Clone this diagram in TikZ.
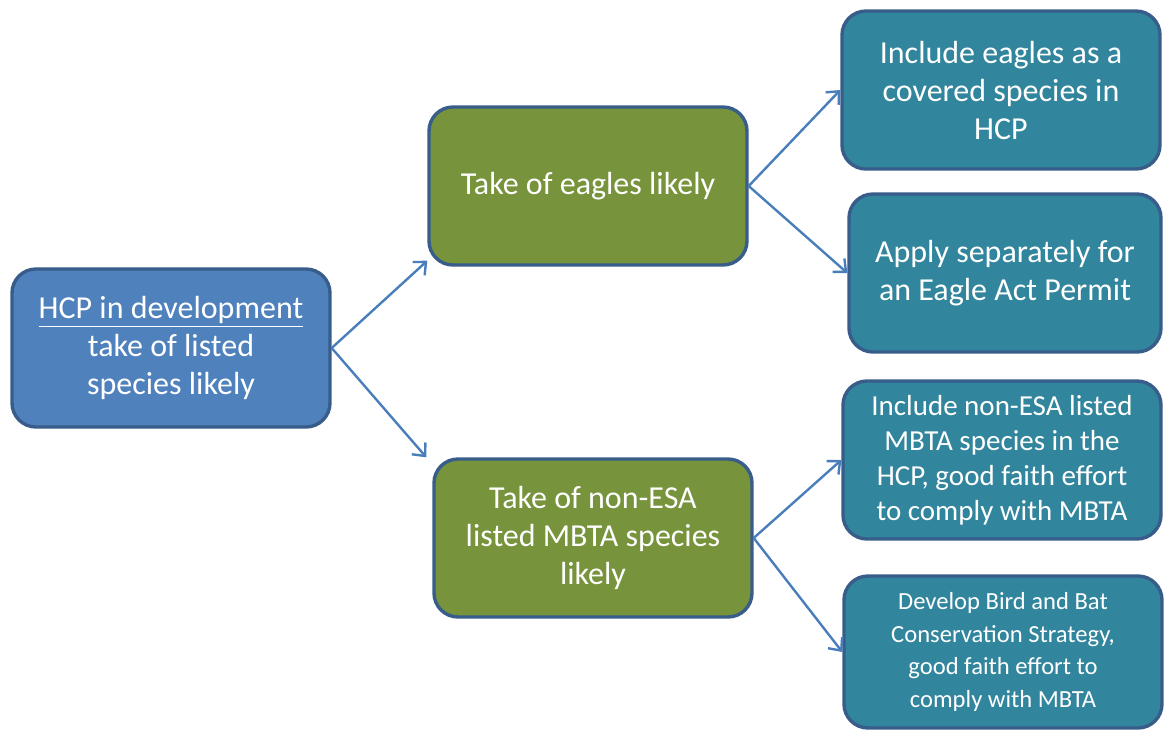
\documentclass[tikz,border=0pt]{standalone}
\usepackage{fontspec}
\setmainfont{Carlito}
\usetikzlibrary{positioning,arrows.meta}
\definecolor{rootblue}{HTML}{4F81BD}
\definecolor{rimblue}{HTML}{385D8A}
\definecolor{takegreen}{HTML}{77933C}
\definecolor{optteal}{HTML}{31859C}
\definecolor{linkblue}{HTML}{4A7EBB}
\tikzset{
  % --- boxes -----------------------------------------------------------------
  box/.style={draw=rimblue,line width=1.7pt,rounded corners=12pt,align=center,
              text=white,inner sep=2pt,minimum width=159pt,minimum height=79pt,
              font=\fontsize{16}{19}\selectfont},
  rootbox/.style={box,fill=rootblue},
  takebox/.style={box,fill=takegreen},
  optbox/.style={box,fill=optteal},
  % --- connectors ------------------------------------------------------------
  link/.style={-{Straight Barb[length=5pt,width=9pt]},linkblue,line width=1.2pt},
}
\begin{document}
\begin{tikzpicture}[x=0.5pt,y=-0.5pt]
  \useasboundingbox (0,0) rectangle (1164,730);
  \node[rootbox] (hcp) at (171,348) {\underline{HCP in development}\\take of listed\\species likely};
  \node[takebox] (eagle) at (588,186) {Take of eagles likely};
  \node[takebox] (mbta) at (593,538) {Take of non-ESA\\listed MBTA species\\likely};
  \node[optbox] (cover) at (1001,90) {Include eagles as a\\covered species in\\HCP};
  \node[optbox,minimum width=156pt] (permit) at (1005,273) {Apply separately for\\an Eagle Act Permit};
  \node[optbox,font=\fontsize{14.5}{17.5}\selectfont] (incl) at (1002,460)
    {Include non-ESA listed\\MBTA species in the\\HCP, good faith effort\\to comply with MBTA};
  \node[optbox,minimum height=76pt,font=\fontsize{12.3}{16.3}\selectfont] (bbcs) at (1003,652)
    {Develop Bird and Bat\\Conservation Strategy,\\good faith effort to\\comply with MBTA};
  \draw[link] (hcp.east) -- ([yshift=3pt]eagle.south west);
  \draw[link] (hcp.east) -- ([xshift=-3pt]mbta.north west);
  \foreach \a/\b in {eagle/cover,eagle/permit,mbta/incl,mbta/bbcs} \draw[link] (\a.east) -- (\b.west);
\end{tikzpicture}
\end{document}
